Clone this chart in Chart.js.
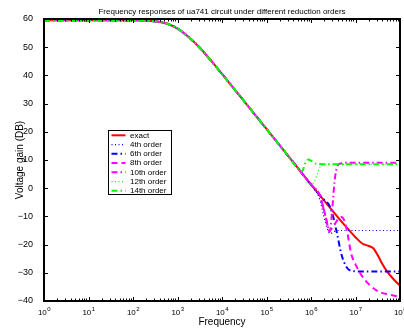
<!DOCTYPE html>
<html>
<head>
<meta charset="utf-8">
<script src="https://cdn.jsdelivr.net/npm/chart.js@4/dist/chart.umd.min.js"></script>
<style>
  html, body { margin: 0; padding: 0; background: #fff; }
  #wrap { width: 404px; height: 329px; }
</style>
</head>
<body>
<div id="wrap"><canvas id="bodeChart"></canvas></div>
<script>
// Frequencies as powers of ten (10^exp Hz), gains in dB
// shared part: every model sits on the exact curve here
const headExp = [0, 1, 2, 2.5, 2.75, 3, 3.25, 3.5, 3.75, 4, 4.5, 5, 5.5, 5.75];
const headDb  = [59.6, 59.6, 59.6, 59.2, 58.4, 56.6, 53.6, 49.8, 45.3, 40.5, 30.8, 21.0, 11.2, 6.2];

const exactExp = [6, 6.25, 6.5, 6.75, 7, 7.15, 7.3, 7.4, 7.5, 7.6, 7.7, 7.85, 8];
const exactDb  = [1.3, -3.5, -8.3, -13, -17.4, -19.6, -20.5, -21.3, -23.8, -26.8, -29.3, -32.2, -34.6];

const order4Exp = [6, 6.1, 6.2, 6.31, 6.43, 6.5, 6.6, 8];
const order4Db  = [1.3, -0.7, -4.2, -11.4, -16.2, -15.5, -15, -15];

const order6Exp = [6, 6.25, 6.4, 6.48, 6.57, 6.69, 6.8, 6.91, 7.1, 8];
const order6Db  = [1.3, -3.5, -5.8, -9, -15, -23.8, -28, -29.3, -29.5, -29.5];

const order8Exp = [6, 6.2, 6.27, 6.35, 6.41, 6.5, 6.6, 6.68, 6.75, 6.82, 6.9, 7.0, 7.17, 7.48, 7.78, 8];
const order8Db  = [1.3, -2.6, -6.5, -11.5, -15.2, -13.5, -11.2, -10.2, -11.5, -16, -23, -27, -31.7, -36.3, -37.8, -38.5];

const order10Exp = [6, 6.2, 6.27, 6.35, 6.42, 6.47, 6.51, 6.55, 6.6, 6.68, 6.8, 8];
const order10Db  = [1.3, -2.6, -6.5, -11.5, -15.5, -9, -1, 5, 8, 8.8, 9.0, 9.0];

const order12Exp = [6, 6.06, 6.13, 6.2, 6.27, 6.4, 8];
const order12Db  = [1.3, 2.0, 4.5, 7.5, 8.3, 8.5, 8.5];

const order14Exp = [5.8, 5.87, 5.94, 6.0, 6.09, 6.3, 8];
const order14Db  = [6.0, 8.8, 10.2, 9.8, 8.8, 8.5, 8.5];

const seriesLabels = ['exact', '4th order', '6th order', '8th order', '10th order', '12th order', '14th order'];
const yTicks = [-40, -30, -20, -10, 0, 10, 20, 30, 40, 50, 60];
const decades = [0, 1, 2, 3, 4, 5, 6, 7, 8];

const FONT = '"Liberation Sans", Arial, Helvetica, sans-serif';

function toPoints(exps, dbs) {
  return exps.map((e, i) => ({ x: Math.pow(10, e), y: dbs[i] }));
}

function withHead(exps, dbs) {
  return toPoints(headExp.concat(exps), headDb.concat(dbs));
}

const styles = [
  { color: '#ff0000', width: 2, dash: [] },
  { color: '#0000ff', width: 1.2, dash: [1, 2.5] },
  { color: '#0000ff', width: 2, dash: [6, 3, 1.5, 3] },
  { color: '#ff00ff', width: 2, dash: [6, 4] },
  { color: '#ff00ff', width: 2, dash: [6, 3, 1.5, 3] },
  { color: '#00ff00', width: 1.2, dash: [1, 2.5] },
  { color: '#00ff00', width: 2, dash: [6, 3, 1.5, 3] }
];

const seriesData = [
  withHead(exactExp, exactDb),
  withHead(order4Exp, order4Db),
  withHead(order6Exp, order6Db),
  withHead(order8Exp, order8Db),
  withHead(order10Exp, order10Db),
  withHead(order12Exp, order12Db),
  withHead(order14Exp, order14Db)
];

const datasets = seriesData.map((pts, i) => ({
  label: seriesLabels[i],
  data: pts,
  borderColor: styles[i].color,
  borderWidth: styles[i].width,
  borderDash: styles[i].dash,
  pointRadius: 0,
  fill: false,
  cubicInterpolationMode: 'monotone',
  order: -i // later curves on top, like matlab
}));

// Frame, inward ticks, x labels with exponents, title and legend
const matlabAxes = {
  id: 'matlabAxes',
  afterDraw(chart) {
    const { ctx, chartArea: a, scales: { x, y } } = chart;
    ctx.save();

    // tick marks
    ctx.strokeStyle = '#000';
    ctx.lineWidth = 1;
    ctx.beginPath();
    decades.forEach(e => {
      for (let k = 1; k < 10; k++) {
        if (e === 8 && k > 1) break;
        const px = Math.round(x.getPixelForValue(k * Math.pow(10, e))) + 0.5;
        const len = k === 1 ? 4 : 2.5;
        ctx.moveTo(px, a.bottom); ctx.lineTo(px, a.bottom - len);
        ctx.moveTo(px, a.top); ctx.lineTo(px, a.top + len);
      }
    });
    yTicks.forEach(v => {
      const py = Math.round(y.getPixelForValue(v)) + 0.5;
      ctx.moveTo(a.left, py); ctx.lineTo(a.left + 4, py);
      ctx.moveTo(a.right, py); ctx.lineTo(a.right - 4, py);
    });
    ctx.stroke();

    // frame
    ctx.lineWidth = 2;
    ctx.strokeRect(a.left, a.top, a.right - a.left, a.bottom - a.top);

    // x tick labels 10^n
    ctx.fillStyle = '#000';
    ctx.textBaseline = 'alphabetic';
    ctx.textAlign = 'left';
    decades.forEach(e => {
      const px = x.getPixelForValue(Math.pow(10, e));
      ctx.font = '8px ' + FONT;
      const wBase = ctx.measureText('10').width;
      ctx.font = '6px ' + FONT;
      const wExp = ctx.measureText(String(e)).width;
      const start = px - (wBase + wExp) / 2;
      ctx.font = '8px ' + FONT;
      ctx.fillText('10', start, 315);
      ctx.font = '6px ' + FONT;
      ctx.fillText(String(e), start + wBase + 0.5, 310.5);
    });

    // title
    ctx.font = '8px ' + FONT;
    ctx.textAlign = 'center';
    ctx.fillText('Frequency responses of ua741 circuit under different reduction orders',
      (a.left + a.right) / 2, 14);

    // legend
    const lx = 108.5, ly = 130.5, lw = 63, lh = 64;
    ctx.fillStyle = '#fff';
    ctx.fillRect(lx, ly, lw, lh);
    ctx.lineWidth = 1;
    ctx.strokeStyle = '#000';
    ctx.strokeRect(lx, ly, lw, lh);
    ctx.textAlign = 'left';
    ctx.textBaseline = 'middle';
    ctx.font = '8px ' + FONT;
    chart.data.datasets.forEach((ds, i) => {
      const ry = 135.3 + i * 9.25;
      ctx.beginPath();
      ctx.strokeStyle = ds.borderColor;
      ctx.lineWidth = ds.borderWidth;
      ctx.setLineDash(ds.borderDash);
      ctx.moveTo(111.5, ry);
      ctx.lineTo(125.5, ry);
      ctx.stroke();
      ctx.setLineDash([]);
      ctx.fillStyle = '#000';
      ctx.fillText(ds.label, 130, ry);
    });

    ctx.restore();
  }
};

new Chart(document.getElementById('bodeChart'), {
  type: 'line',
  data: { datasets: datasets },
  options: {
    responsive: true,
    maintainAspectRatio: false,
    animation: false,
    layout: { padding: { top: 19, right: 4, left: 0, bottom: 0 } },
    plugins: {
      legend: { display: false },
      tooltip: { enabled: false },
      title: { display: false }
    },
    scales: {
      x: {
        type: 'logarithmic',
        min: 1,
        max: 1e8,
        grid: { display: false },
        border: { display: false },
        ticks: { display: false },
        title: {
          display: true,
          text: 'Frequency',
          color: '#000',
          font: { family: FONT, size: 10 },
          padding: { top: 0, bottom: 1 }
        },
        afterFit(scale) { scale.height = 28; }
      },
      y: {
        min: -40,
        max: 60,
        grid: { display: false },
        border: { display: false },
        afterBuildTicks(scale) { scale.ticks = yTicks.map(v => ({ value: v })); },
        ticks: {
          color: '#000',
          font: { family: FONT, size: 9 },
          padding: 3,
          callback: v => (v < 0 ? '\u2212' + Math.abs(v) : String(v))
        },
        title: {
          display: true,
          text: 'Voltage gain (DB)',
          color: '#000',
          font: { family: FONT, size: 10 },
          padding: { top: 14, bottom: 0 }
        },
        afterFit(scale) { scale.width = 44; }
      }
    }
  },
  plugins: [matlabAxes]
});
</script>
</body>
</html>
